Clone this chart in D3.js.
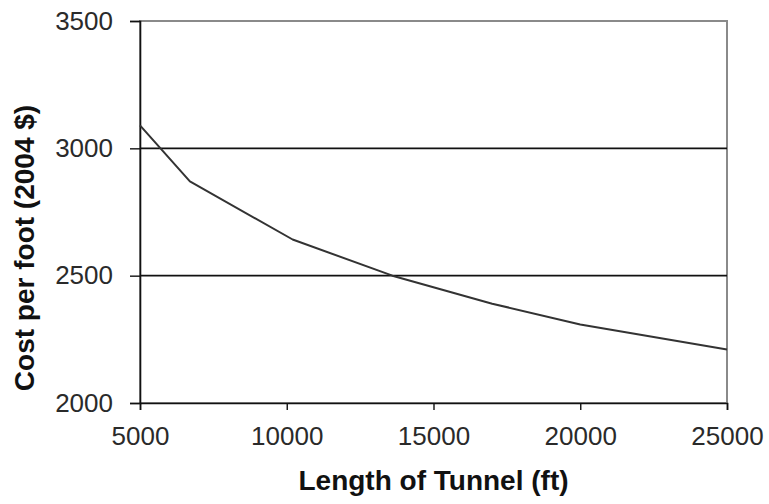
<!DOCTYPE html>
<html>
<head>
<meta charset="utf-8">
<script src="https://cdn.jsdelivr.net/npm/d3@7.9.0/dist/d3.min.js"></script>
<style>
    body { margin: 0; background: #fff; }
    svg { display: block; font-family: "Liberation Sans", Arial, sans-serif; }
</style>
</head>
<body>
<svg id="chart"></svg>
<script>
// Tunnel length (ft) and cost per foot (2004 $)
const lengths = [5000, 6700, 10200, 13600, 17000, 20000, 25000];
const costs = [3090, 2870, 2642, 2500, 2390, 2308, 2210];

const xTicks = [5000, 10000, 15000, 20000, 25000];
const yTicks = [2000, 2500, 3000, 3500];
const gridValues = [2500, 3000];

const margin = { top: 21, right: 42, bottom: 101, left: 140 },
      width = 769 - margin.left - margin.right,
      height = 504 - margin.top - margin.bottom;

const svgContainer = d3.select("#chart")
    .attr("width", 769)
    .attr("height", 504);

const svg = svgContainer.append("g")
    .attr("transform", `translate(${margin.left},${margin.top})`);

// Scales
const xScale = d3.scaleLinear().domain([5000, 25000]).range([0, width]);
const yScale = d3.scaleLinear().domain([2000, 3500]).range([height, 0]);

// Plot area border (top and right are grey)
svg.append("rect")
    .attr("x", 0)
    .attr("y", 0)
    .attr("width", width)
    .attr("height", height)
    .attr("fill", "none")
    .attr("stroke", "#8a8a8a")
    .attr("stroke-width", 2);

// Gridlines
svg.selectAll(".grid")
    .data(gridValues)
    .enter()
    .append("line")
    .attr("x1", 0)
    .attr("x2", width)
    .attr("y1", d => yScale(d))
    .attr("y2", d => yScale(d))
    .attr("stroke", "#111")
    .attr("stroke-width", 1.6);

// X-axis
const xAxis = svg.append("g")
    .attr("transform", `translate(0,${height})`)
    .call(d3.axisBottom(xScale).tickValues(xTicks).tickFormat(d3.format("d"))
        .tickSize(7).tickPadding(17));

// Y-axis
const yAxis = svg.append("g")
    .call(d3.axisLeft(yScale).tickValues(yTicks).tickFormat(d3.format("d"))
        .tickSize(10).tickPadding(17));

[xAxis, yAxis].forEach(ax => {
    ax.select(".domain").attr("stroke", "#111").attr("stroke-width", 1.6);
    ax.selectAll(".tick line").attr("stroke", "#111").attr("stroke-width", 1.4);
    ax.selectAll(".tick text")
        .attr("fill", "#2a2a2a")
        .style("font-size", "26px");
});
yAxis.selectAll(".tick text").attr("dy", "0.32em");

// Cost curve
const points = lengths.map((d, i) => [d, costs[i]]);
svg.append("path")
    .datum(points)
    .attr("fill", "none")
    .attr("stroke", "#333")
    .attr("stroke-width", 2)
    .attr("stroke-linejoin", "round")
    .attr("d", d3.line().x(d => xScale(d[0])).y(d => yScale(d[1])));

// X-axis label
svgContainer.append("text")
    .attr("x", margin.left + width / 2)
    .attr("y", 490)
    .attr("text-anchor", "middle")
    .style("font-size", "28px")
    .style("font-weight", "bold")
    .attr("fill", "#111")
    .text("Length of Tunnel (ft)");

// Y-axis label
svgContainer.append("text")
    .attr("transform", "rotate(-90)")
    .attr("x", -248)
    .attr("y", 34)
    .attr("text-anchor", "middle")
    .style("font-size", "28px")
    .style("font-weight", "bold")
    .attr("fill", "#111")
    .text("Cost per foot (2004 $)");
</script>
</body>
</html>
